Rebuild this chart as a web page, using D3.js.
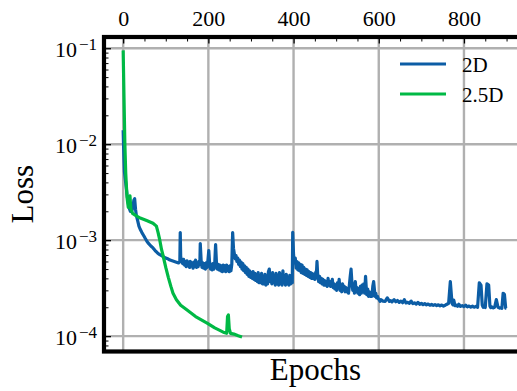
<!DOCTYPE html>
<html><head><meta charset="utf-8">
<script src="https://cdn.jsdelivr.net/npm/d3@7"></script>
<style>body{margin:0;background:#fff}svg{display:block}</style>
</head><body>
<script>
// ---- data ----
const seriesNames = ["2D", "2.5D"];
const seriesColors = ["#0C5DA5", "#00B945"];
const xTicks = [0, 200, 400, 600, 800];
const xMinorTicks = [-50, 50, 100, 150, 250, 300, 350, 450, 500, 550, 650, 700, 750, 850, 900];
const yTicks = [1e-1, 1e-2, 1e-3, 1e-4];
const yTickExps = ["−1", "−2", "−3", "−4"];
const xLabel = "Epochs";
const yLabel = "Loss";

const epochs2D = [0,1,2,3,5,7,9,11,13,15,17,20,23,25,27,29,31,34,37,40,44,48,52,56,60,65,70,75,80,85,90,95,100,105,110,115,120,125,130,133,134,135,137,
140,142,144,146,148,150,152,154,156,158,160,162,164,166,168,170,172,174,176,178,180,181,183,185,187,189,191,193,195,197,199,201,203,205,207,209,211,213,215,217,219,221,223,225,227,229,231,233,235,237,239,241,243,245,247,249,251,253,255,257,259,
261,263,265,267,269,271,273,275,277,279,281,283,285,287,289,291,293,295,297,299,301,303,305,307,309,311,313,315,317,319,321,323,325,327,329,331,333,335,337,339,341,343,345,347,349,351,353,355,357,359,361,363,365,367,369,371,373,375,377,379,381,383,385,387,389,391,393,395,397,398,400,
402,404,406,408,410,412,414,416,418,420,422,424,426,428,430,432,434,436,438,440,442,444,446,448,450,452,454,455,457,459,461,463,465,467,469,471,473,475,477,479,481,483,485,487,489,491,493,495,497,499,501,503,505,507,509,511,513,515,517,519,521,523,525,527,529,531,533,535,537,539,541,543,545,547,549,551,553,555,557,559,561,563,565,567,569,571,572,574,576,578,580,582,584,586,588,590,591,593,595,597,599,601,603,605,
610,615,620,625,628,631,636,640,644,648,652,656,660,664,668,672,676,680,684,688,692,696,700,704,708,712,716,720,724,728,732,736,740,744,748,752,756,760,764,768,772,774,776,779,782,785,788,792,796,800,804,808,812,816,820,824,828,832,836,840,843,845,847,850,854,858,861,863,865,868,872,876,880,884,886,889,892,895,898,900,902,904];
const loss2D = [0.014,0.0095,0.0068,0.0052,0.0043,0.0036,0.003,0.0026,0.0023,0.0021,0.002,0.002,0.0022,0.0026,0.0027,0.0021,0.0018,0.0016,0.0014,0.0013,0.0012,0.00112,0.00104,0.00097,0.00092,0.00087,0.00083,0.00078,0.00074,0.00071,0.00069,0.00067,0.00065,0.00064,0.00062,0.00061,0.0006,0.00059,0.00058,0.0006,0.0012,0.00068,0.0006,
0.00057,0.00063,0.00055,0.0006,0.00053,0.00061,0.00054,0.00059,0.00052,0.0006,0.00054,0.00058,0.00051,0.00059,0.00053,0.00062,0.00052,0.00058,0.00053,0.0006,0.00056,0.00092,0.00062,0.00052,0.00058,0.00051,0.00057,0.0005,0.00058,0.00052,0.00062,0.00078,0.00057,0.0005,0.00056,0.00049,0.00057,0.0005,0.00058,0.0009,0.00058,0.0005,0.00056,0.00049,0.00055,0.00048,0.00054,0.00047,0.00055,0.00048,0.00054,0.00047,0.00055,0.00048,0.00053,0.00047,0.00054,0.00048,0.00056,0.0012,0.00082,
0.00072,0.00064,0.00069,0.0006,0.00065,0.00056,0.00062,0.00053,0.00059,0.0005,0.00057,0.00048,0.00054,0.00046,0.00052,0.00044,0.0005,0.00042,0.00048,0.00041,0.00046,0.0004,0.00047,0.00039,0.00045,0.00038,0.00044,0.00037,0.00046,0.00036,0.00042,0.00036,0.00045,0.00035,0.00041,0.00035,0.00044,0.00034,0.0004,0.00035,0.00047,0.0005,0.00037,0.00042,0.00035,0.00046,0.00036,0.00041,0.00034,0.00045,0.00035,0.00043,0.00034,0.00046,0.00035,0.0004,0.00034,0.00048,0.00036,0.00041,0.00034,0.00044,0.00035,0.0004,0.00034,0.00043,0.00035,0.00039,0.00036,0.00121,0.0007,
0.00058,0.00065,0.00051,0.0006,0.00049,0.00058,0.00048,0.00056,0.00046,0.00055,0.00045,0.00052,0.00044,0.0005,0.00043,0.00049,0.00042,0.00047,0.00041,0.00046,0.0004,0.00045,0.0004,0.00044,0.00039,0.00046,0.00048,0.0006,0.00041,0.00037,0.00042,0.00036,0.0004,0.00035,0.00039,0.00034,0.00038,0.00034,0.00037,0.00033,0.0004,0.00034,0.00037,0.00033,0.00036,0.00039,0.00032,0.00035,0.00031,0.00034,0.0003,0.00036,0.00032,0.00039,0.0003,0.00034,0.00029,0.00035,0.00031,0.00033,0.00029,0.00032,0.00029,0.00031,0.00028,0.00034,0.00042,0.0005,0.00036,0.0003,0.00033,0.00028,0.00037,0.00029,0.00032,0.00028,0.00031,0.00027,0.00033,0.00028,0.00034,0.00029,0.00035,0.00028,0.00042,0.0003,0.00027,0.00031,0.00026,0.00029,0.00026,0.00028,0.00026,0.00033,0.00037,0.0003,0.00026,0.00028,0.00025,0.00026,0.000245,0.00024,
0.00023,0.00024,0.000232,0.00023,0.00025,0.00023,0.000235,0.000228,0.00024,0.000228,0.000235,0.000225,0.000232,0.000223,0.00024,0.000222,0.000225,0.00022,0.000232,0.000218,0.000222,0.000216,0.000225,0.000215,0.00022,0.000213,0.000218,0.000212,0.000216,0.00021,0.000214,0.000209,0.000213,0.000208,0.000212,0.000207,0.000211,0.000206,0.00021,0.000215,0.00022,0.00037,0.00022,0.000212,0.000238,0.000208,0.00021,0.000205,0.000215,0.000204,0.000208,0.000203,0.00021,0.000202,0.000206,0.000201,0.000205,0.0002,0.000204,0.0002,0.00036,0.00034,0.00021,0.0002,0.000204,0.000199,0.00035,0.00034,0.000205,0.000198,0.000202,0.000197,0.0002,0.00024,0.0002,0.000196,0.000198,0.000195,0.00028,0.000272,0.000196,0.000195];

const epochs25D = [0,2,4,6,9,12,14,16,18,22,30,40,55,70,78,82,86,90,94,100,106,112,117,125,135,150,170,197,215,235,243,245,247,249,252,260,270,279];
const loss25D = [0.095,0.03,0.01,0.005,0.0028,0.0022,0.0025,0.0029,0.0021,0.0019,0.0018,0.0017,0.0016,0.0015,0.0014,0.0012,0.001,0.0008,0.00068,0.00052,0.00041,0.00033,0.00028,0.00024,0.00021,0.000187,0.00016,0.000137,0.000122,0.00011,0.000107,0.00016,0.000166,0.00012,0.000107,0.000105,0.000101,0.000098];

// ---- layout ----
const FONT = "'Liberation Serif', 'DejaVu Serif', 'Times New Roman', serif";
const W = 517, H = 391;
const L = 104, T = 37, B = 351.5, R = 527;
const svg = d3.select("body").append("svg").attr("width", W).attr("height", H)
  .style("font-family", FONT);
svg.append("rect").attr("width", W).attr("height", H).attr("fill", "#fff");

const x = d3.scaleLinear().domain([-45, 948]).range([L, R]);
const y = d3.scaleLog().domain([Math.pow(10, -4.16), Math.pow(10, -0.883)]).range([B, T]);

svg.append("defs").append("clipPath").attr("id", "clip")
  .append("rect").attr("x", L).attr("y", T).attr("width", R - L).attr("height", B - T);

// grid
const grid = svg.append("g").attr("stroke", "#b0b0b0").attr("stroke-width", 2.4);
xTicks.forEach(t => grid.append("line").attr("x1", x(t)).attr("x2", x(t)).attr("y1", T).attr("y2", B));
yTicks.forEach(t => grid.append("line").attr("x1", L).attr("x2", R).attr("y1", y(t)).attr("y2", y(t)));

// lines
const plot = svg.append("g").attr("clip-path", "url(#clip)");
const line = d3.line().x(d => x(d[0])).y(d => y(d[1]));
const data2D = epochs2D.map((e, i) => [e, loss2D[i]]);
const data25D = epochs25D.map((e, i) => [e, loss25D[i]]);
[data2D, data25D].forEach((d, i) => {
  plot.append("path").datum(d).attr("d", line).attr("fill", "none")
    .attr("stroke", seriesColors[i]).attr("stroke-width", 3.2)
    .attr("stroke-linejoin", "round").attr("stroke-linecap", "butt");
});

// top axis: labels
const topAxis = svg.append("g").attr("transform", `translate(0,${T})`)
  .call(d3.axisTop(x).tickValues(xTicks).tickSizeInner(0).tickSizeOuter(0).tickPadding(11).tickFormat(d3.format("d")));
topAxis.attr("font-family", FONT).attr("font-size", 22);
topAxis.select(".domain").remove();
topAxis.selectAll("text").attr("font-size", 22).style("font-family", FONT).attr("fill", "#000");
// top major / minor ticks (inward)
const tMaj = svg.append("g").attr("transform", `translate(0,${T})`)
  .call(d3.axisTop(x).tickValues(xTicks).tickSizeInner(-6.5).tickSizeOuter(0).tickFormat(""));
tMaj.select(".domain").remove();
tMaj.selectAll("line").attr("stroke", "#000").attr("stroke-width", 1.3);
const tMin = svg.append("g").attr("transform", `translate(0,${T})`)
  .call(d3.axisTop(x).tickValues(xMinorTicks.filter(v => x(v) > L + 2)).tickSizeInner(-4.5).tickSizeOuter(0).tickFormat(""));
tMin.select(".domain").remove();
tMin.selectAll("line").attr("stroke", "#000").attr("stroke-width", 1);

// left axis
const leftAxis = svg.append("g").attr("transform", `translate(${L},0)`)
  .call(d3.axisLeft(y).tickValues(yTicks).tickSizeInner(-7).tickSizeOuter(0).tickPadding(7).tickFormat(() => ""));
leftAxis.attr("font-family", FONT);
leftAxis.select(".domain").remove();
leftAxis.selectAll("line").attr("stroke", "#000").attr("stroke-width", 1.3);
leftAxis.selectAll("text").each(function(d, i) {
  const t = d3.select(this).attr("dy", null).attr("y", 8).attr("font-size", 22)
    .attr("text-anchor", "end").style("font-family", FONT).attr("fill", "#000");
  t.append("tspan").text("10");
  t.append("tspan").attr("font-size", 17).attr("dy", -7).attr("dx", 2).text(yTickExps[i]);
});
const yMinor = [];
for (let e = -5; e <= -1; e++) for (let m = 2; m <= 9; m++) yMinor.push(m * Math.pow(10, e));
const lMin = svg.append("g").attr("transform", `translate(${L},0)`)
  .call(d3.axisLeft(y).tickValues(yMinor.filter(v => y(v) > T + 2 && y(v) < B - 2)).tickSizeInner(-4.5).tickSizeOuter(0).tickFormat(""));
lMin.select(".domain").remove();
lMin.selectAll("line").attr("stroke", "#000").attr("stroke-width", 1);

// spines
svg.append("rect").attr("x", L).attr("y", T).attr("width", R - L).attr("height", B - T)
  .attr("fill", "none").attr("stroke", "#000").attr("stroke-width", 4.2);

// axis labels
svg.append("text").attr("x", (L + R) / 2).attr("y", 380).attr("text-anchor", "middle")
  .style("font-family", FONT).attr("font-size", 31).text(xLabel);
svg.append("text").attr("transform", `translate(33,${(T + B) / 2}) rotate(-90)`).attr("text-anchor", "middle")
  .style("font-family", FONT).attr("font-size", 31).text(yLabel);

// legend
const lg = svg.append("g");
seriesNames.forEach((n, i) => {
  const yy = 64 + i * 30;
  lg.append("line").attr("x1", 400).attr("x2", 446).attr("y1", yy).attr("y2", yy)
    .attr("stroke", seriesColors[i]).attr("stroke-width", 3);
  lg.append("text").attr("x", 462).attr("y", yy + 7.5).style("font-family", FONT)
    .attr("font-size", 21).text(n);
});
</script>
</body></html>
